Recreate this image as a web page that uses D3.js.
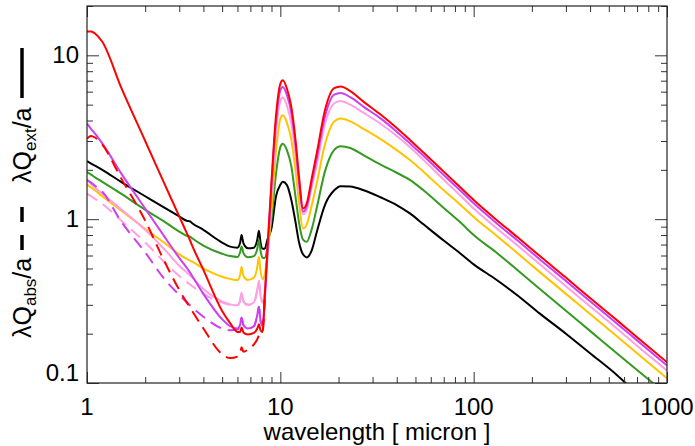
<!DOCTYPE html>
<html>
<head>
<meta charset="utf-8">
<script src="https://cdn.jsdelivr.net/npm/d3@7"></script>
<style>
  body { margin: 0; background: #fff; }
</style>
</head>
<body>
<div id="chart"></div>
<script>
// wavelength grid (micron) shared by the solid (extinction) curves
var wavelength = [1, 1.05, 1.1, 1.2, 1.5, 2, 2.5, 3, 3.3, 3.4, 3.5, 4, 5, 5.5, 6, 6.2, 6.3, 6.45, 6.8, 7.3,
  7.6, 7.75, 7.9, 8.1, 8.3, 8.6, 9, 9.5, 10, 10.3, 10.8, 11.4, 12, 12.5, 13.1, 13.7, 14.5, 15.5, 17, 19,
  20.5, 23, 27, 33, 40, 47, 55, 70, 85, 100, 130, 170, 220, 300, 400, 550, 700, 1000];

var extBlack = [2.26, 2.18, 2.12, 2.0, 1.69, 1.38, 1.18, 1.04, 0.975, 0.972, 0.945, 0.86, 0.72, 0.68, 0.67, 0.72, 0.80, 0.71, 0.665, 0.67,
  0.75, 0.85, 0.72, 0.66, 0.66, 0.76, 0.88, 1.38, 1.62, 1.69, 1.62, 1.31, 0.95, 0.72, 0.61, 0.584, 0.64, 0.85, 1.22, 1.5,
  1.59, 1.58, 1.5, 1.36, 1.22, 1.08, 0.93, 0.74, 0.62, 0.53, 0.43, 0.34, 0.265, 0.2, 0.152, 0.112, 0.086, 0.06];
var extGreen = [1.94, 1.87, 1.80, 1.69, 1.43, 1.14, 0.97, 0.84, 0.79, 0.785, 0.765, 0.69, 0.615, 0.595, 0.588, 0.63, 0.68, 0.62, 0.585, 0.595,
  0.66, 0.745, 0.64, 0.58, 0.58, 0.68, 1.0, 1.9, 2.75, 2.89, 2.65, 2.1, 1.35, 0.95, 0.75, 0.727, 0.86, 1.2, 1.95, 2.65,
  2.79, 2.72, 2.45, 2.15, 1.92, 1.73, 1.5, 1.17, 0.96, 0.80, 0.63, 0.485, 0.375, 0.276, 0.208, 0.152, 0.12, 0.085];
var extGold = [1.63, 1.56, 1.5, 1.38, 1.13, 0.87, 0.72, 0.61, 0.57, 0.56, 0.55, 0.5, 0.445, 0.432, 0.425, 0.46, 0.51, 0.45, 0.425, 0.44,
  0.51, 0.59, 0.48, 0.43, 0.46, 0.62, 1.15, 2.6, 4.1, 4.31, 3.9, 3.05, 1.95, 1.25, 0.877, 0.93, 1.2, 1.7, 2.85, 3.95,
  4.11, 3.95, 3.55, 3.08, 2.64, 2.29, 1.95, 1.5, 1.23, 1.03, 0.8, 0.615, 0.475, 0.35, 0.264, 0.193, 0.152, 0.107];
var extPink = [1.72, 1.64, 1.56, 1.43, 1.15, 0.86, 0.66, 0.52, 0.47, 0.455, 0.44, 0.375, 0.315, 0.302, 0.298, 0.32, 0.355, 0.315, 0.3, 0.31,
  0.37, 0.42, 0.34, 0.31, 0.36, 0.62, 1.4, 3.4, 5.25, 5.52, 4.95, 3.85, 2.45, 1.55, 1.07, 1.14, 1.55, 2.2, 3.8, 5.1,
  5.27, 5.0, 4.45, 3.82, 3.22, 2.74, 2.3, 1.74, 1.4, 1.16, 0.89, 0.685, 0.53, 0.39, 0.294, 0.215, 0.169, 0.119];
var extMagenta = [3.83, 3.55, 3.33, 2.9, 1.91, 1.16, 0.79, 0.58, 0.5, 0.475, 0.45, 0.35, 0.245, 0.222, 0.215, 0.228, 0.25, 0.225, 0.215, 0.222,
  0.26, 0.292, 0.24, 0.225, 0.32, 0.66, 1.6, 3.95, 6.1, 6.41, 5.75, 4.45, 2.8, 1.7, 1.11, 1.2, 1.65, 2.42, 4.2, 5.75,
  5.89, 5.55, 4.85, 4.12, 3.42, 2.89, 2.44, 1.86, 1.5, 1.25, 0.955, 0.735, 0.568, 0.42, 0.315, 0.231, 0.182, 0.128];
var extRed = [14.0, 14.0, 13.6, 12.1, 6.4, 3.0, 1.67, 1.04, 0.81, 0.75, 0.69, 0.49, 0.275, 0.232, 0.205, 0.205, 0.218, 0.203, 0.198, 0.202,
  0.215, 0.228, 0.21, 0.205, 0.33, 0.7, 1.7, 4.3, 6.7, 7.04, 6.3, 4.84, 3.0, 1.8, 1.16, 1.25, 1.75, 2.6, 4.6, 6.3,
  6.45, 6.05, 5.2, 4.35, 3.6, 3.03, 2.55, 1.95, 1.57, 1.31, 1.0, 0.77, 0.595, 0.44, 0.33, 0.242, 0.19, 0.134];

// dashed (absorption) curves, only where they split from the solid ones
var absWavelength = [1, 1.05, 1.1, 1.2, 1.5, 2, 2.5, 3, 3.5, 4, 5, 5.5, 6, 6.2, 6.3, 6.45, 6.8, 7.3, 7.6, 7.75, 7.9, 8.1, 8.3];
var absPink = [1.43, 1.38, 1.33, 1.24, 0.98, 0.72, 0.55, 0.45, 0.39, 0.35, 0.31, 0.3, 0.298, 0.32, 0.355, 0.315, 0.3, 0.31, 0.37, 0.42, 0.34, 0.31, 0.36];
var absMagenta = [1.74, 1.67, 1.6, 1.47, 0.97, 0.627, 0.435, 0.345, 0.29, 0.254, 0.215, 0.21, 0.212, 0.228, 0.25, 0.225, 0.215, 0.222, 0.26, 0.292, 0.24, 0.225, 0.32];
var absRed = [3.1, 3.22, 3.15, 2.85, 1.78, 0.98, 0.56, 0.37, 0.275, 0.215, 0.15, 0.142, 0.145, 0.152, 0.165, 0.155, 0.16, 0.172, 0.185, 0.195, 0.198, 0.205, 0.33];

var xTicks = [1, 10, 100, 1000];
var yTicks = [0.1, 1, 10];
var xTickLabels = ["1", "10", "100", "1000"];
var yTickLabels = ["0.1", "1", "10"];

var W = 695, H = 446;
var margin = {top: 6, right: 28, bottom: 63, left: 87};
var font = "'Liberation Sans', Arial, Helvetica, sans-serif";

var svg = d3.select("#chart")
  .append("svg")
    .attr("width", W)
    .attr("height", H);

var x = d3.scaleLog()
  .domain([1, 1000])
  .range([margin.left, W - margin.right]);
var y = d3.scaleLog()
  .domain([0.1, 20])
  .range([H - margin.bottom, margin.top]);

// minor tick positions 2..9 per decade
function minors(lo, hi) {
  var out = [];
  for (var p = lo; p < hi; p++)
    for (var m = 2; m <= 9; m++) out.push(m * Math.pow(10, p));
  return out;
}
var xMinor = minors(0, 3);
var yMinor = minors(-1, 2).filter(function(v) { return v <= 20; });

var plotBottom = H - margin.bottom, plotTop = margin.top,
    plotLeft = margin.left, plotRight = W - margin.right;

// clip curves to the frame
svg.append("clipPath").attr("id", "clip")
  .append("rect")
    .attr("x", plotLeft).attr("y", plotTop)
    .attr("width", plotRight - plotLeft).attr("height", plotBottom - plotTop);

var line = d3.line()
  .x(function(d) { return x(d[0]); })
  .y(function(d) { return y(d[1]); })
  .curve(d3.curveMonotoneX);

var series = [
  {ext: extBlack,   abs: null,       color: "#000000"},
  {ext: extGreen,   abs: null,       color: "#339a22"},
  {ext: extGold,    abs: null,       color: "#ffc400"},
  {ext: extPink,    abs: absPink,    color: "#ff9fe4"},
  {ext: extMagenta, abs: absMagenta, color: "#cc3ff2"},
  {ext: extRed,     abs: absRed,     color: "#ff0000"}
];

var curves = svg.append("g").attr("clip-path", "url(#clip)");
series.forEach(function(s) {
  curves.append("path")
    .datum(d3.zip(wavelength, s.ext))
    .attr("d", line)
    .attr("fill", "none")
    .attr("stroke", s.color)
    .attr("stroke-width", 2);
  if (s.abs) {
    curves.append("path")
      .datum(d3.zip(absWavelength, s.abs))
      .attr("d", line)
      .attr("fill", "none")
      .attr("stroke", s.color)
      .attr("stroke-width", 2)
      .attr("stroke-dasharray", "12,7");
  }
});

// ticks pointing inwards on all four sides
function ticks(axis, values, size, g) {
  svg.append("g")
    .attr("transform", g)
    .call(axis.tickValues(values).tickSize(size).tickFormat(""))
    .call(function(sel) {
      sel.select(".domain").remove();
      sel.selectAll(".tick line").attr("stroke", "#333");
    });
}
ticks(d3.axisBottom(x), xMinor, -6, "translate(0," + plotBottom + ")");
ticks(d3.axisBottom(x), xTicks, -11, "translate(0," + plotBottom + ")");
ticks(d3.axisTop(x), xMinor, -6, "translate(0," + plotTop + ")");
ticks(d3.axisTop(x), xTicks, -11, "translate(0," + plotTop + ")");
ticks(d3.axisLeft(y), yMinor, -6, "translate(" + plotLeft + ",0)");
ticks(d3.axisLeft(y), yTicks, -12, "translate(" + plotLeft + ",0)");
ticks(d3.axisRight(y), yMinor, -6, "translate(" + plotRight + ",0)");
ticks(d3.axisRight(y), yTicks, -12, "translate(" + plotRight + ",0)");

// frame
svg.append("rect")
  .attr("x", plotLeft).attr("y", plotTop)
  .attr("width", plotRight - plotLeft).attr("height", plotBottom - plotTop)
  .attr("fill", "none")
  .attr("stroke", "#222")
  .attr("stroke-width", 1.2);

// tick labels
svg.selectAll("xlab")
  .data(xTicks)
  .enter()
  .append("text")
    .attr("x", function(d) { return x(d); })
    .attr("y", 415)
    .attr("text-anchor", "middle")
    .style("font-family", font)
    .style("font-size", "24px")
    .text(function(d, i) { return xTickLabels[i]; });

svg.selectAll("ylab")
  .data(yTicks)
  .enter()
  .append("text")
    .attr("x", 79)
    .attr("y", function(d) { return d === 0.1 ? y(d) - 2 : y(d) + 8; })
    .attr("text-anchor", "end")
    .style("font-family", font)
    .style("font-size", "24px")
    .text(function(d, i) { return yTickLabels[i]; });

// x axis title
svg.append("text")
  .attr("x", (plotLeft + plotRight) / 2)
  .attr("y", 440)
  .attr("text-anchor", "middle")
  .style("font-family", font)
  .style("font-size", "24px")
  .text("wavelength [ micron ]");

// y axis title: λQabs/a - - λQext/a ——
var yt = svg.append("g").attr("transform", "translate(31,0) rotate(-90)");
function ylabel(xr, sub) {
  var t = yt.append("text")
    .attr("x", xr).attr("y", 0)
    .style("font-family", font)
    .style("font-size", "25px");
  t.append("tspan").text("λQ");
  t.append("tspan").attr("dy", 5).style("font-size", "17px").text(sub);
  t.append("tspan").attr("dy", -5).text("/a");
}
ylabel(-338, "abs");
ylabel(-183, "ext");
[[-250, -235], [-222, -207], [-98, -48]].forEach(function(seg) {
  yt.append("line")
    .attr("x1", seg[0]).attr("x2", seg[1])
    .attr("y1", -9).attr("y2", -9)
    .attr("stroke", "#000")
    .attr("stroke-width", 3.5);
});
</script>
</body>
</html>
